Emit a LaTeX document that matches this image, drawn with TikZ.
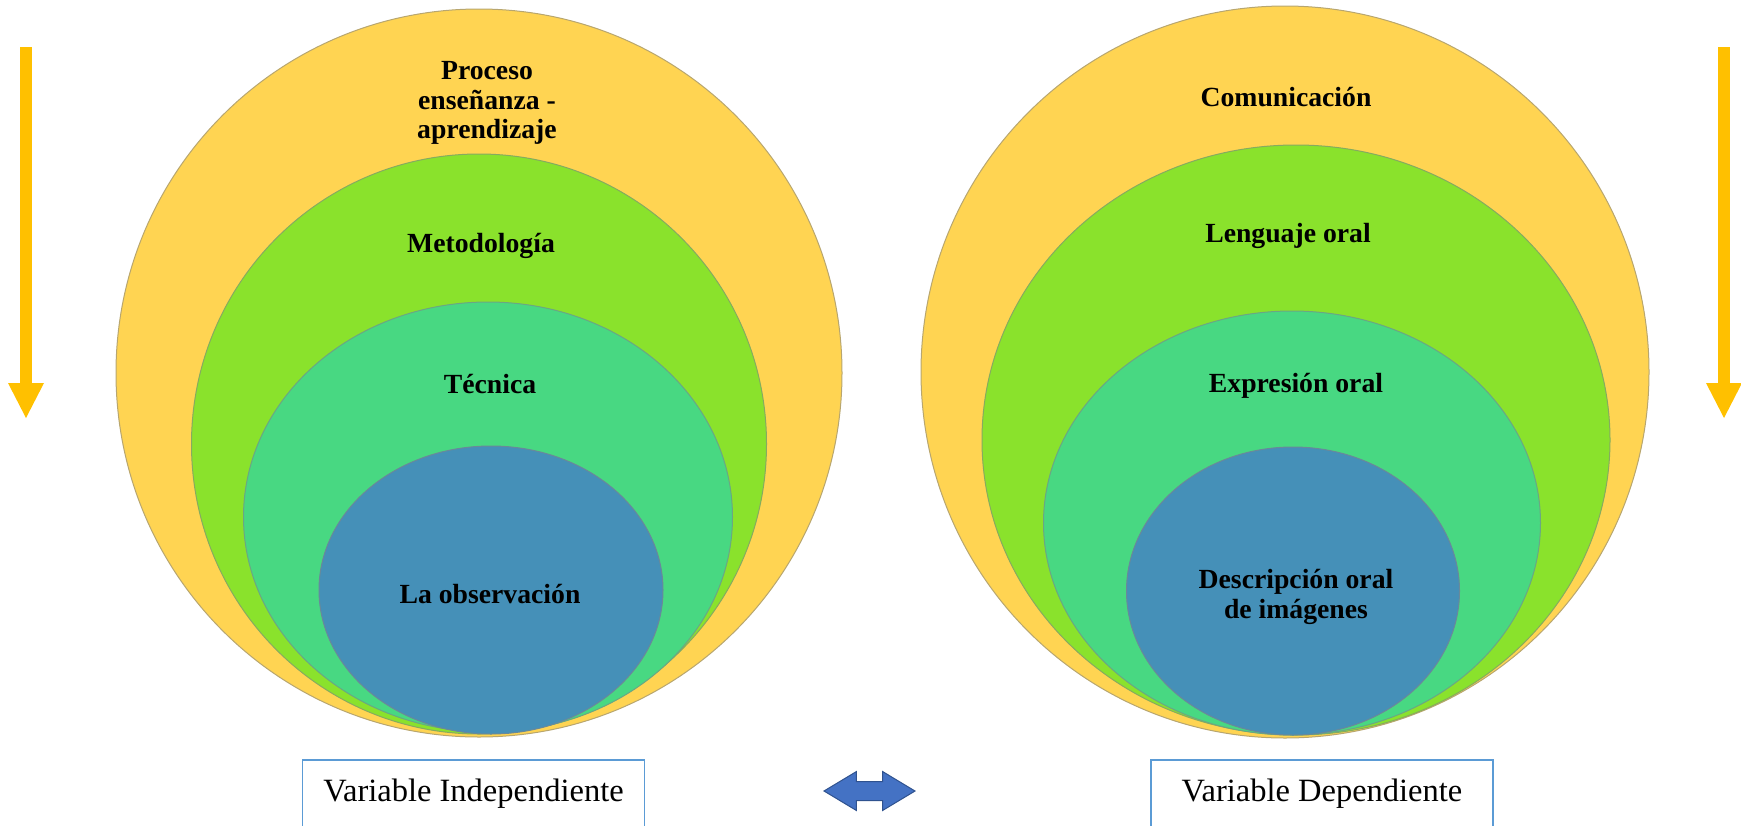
\documentclass[tikz,border=0pt]{standalone}
\usepackage{fontspec}
\setmainfont{Liberation Serif}
\usepackage{xcolor}
\usepackage{tikz}
\usetikzlibrary{arrows.meta,positioning,shapes.geometric,shapes.arrows}
\definecolor{setyellow}{HTML}{FFD452}
\definecolor{setgreen}{HTML}{8AE22C}
\definecolor{setteal}{HTML}{48D882}
\definecolor{setblue}{HTML}{4590B8}
\definecolor{arrowgold}{HTML}{FFC000}
\definecolor{boxblue}{HTML}{5B9BD5}
\definecolor{linkblue}{HTML}{4472C4}
\definecolor{linkedge}{HTML}{2F528F}

\begin{document}
\begin{tikzpicture}
			[x=1pt, y=-1pt,
				font=\bfseries\fontsize{27.7}{29.5}\selectfont,
				% STYLES
				% The ring style draws one level of the nested sets
				ring/.style={ellipse, inner sep=0pt, outer sep=0pt, fill=#1,
						draw=#1!60!black!70, line width=1pt},
				% The levelname style is used for the text of each level
				levelname/.style={align=center, inner sep=0pt},
				% The varbox style is used to draw the names of the variables
				varbox/.style={rectangle, draw=boxblue, line width=1.5pt, fill=white,
						minimum width=342pt, minimum height=68pt, inner sep=0pt,
						font=\mdseries\fontsize{32.5}{36}\selectfont},
				% The downarrow style marks the order of the levels
				downarrow/.style={draw=arrowgold, line width=12pt,
						-{Triangle[width=36pt, length=35pt, line width=0pt]}},
				% The link style joins both variables
				link/.style={double arrow, fill=linkblue, draw=linkedge, line width=1pt,
						minimum height=91pt, inner xsep=0pt, inner ysep=9pt,
						double arrow head extend=10pt, double arrow tip angle=62}]

			\useasboundingbox (0,0) rectangle (1741,825);

			% Independent variable
			\node [ring=setyellow, minimum width=726pt, minimum height=728pt] (iOuter) at (479,373) {};
			\node [ring=setgreen, minimum width=575pt, minimum height=580pt] (iMid) at (479,444) {};
			\node [ring=setteal, minimum width=489pt, minimum height=430pt] (iIn) at (488,517) {};
			\node [ring=setblue, minimum width=344pt, minimum height=288pt] (iCore) at (491,590) {};

			\node [levelname] (iOuterName) at (487,103) {Proceso\\ enseñanza -\\ aprendizaje};
			\node [levelname] (iMidName) at (481,246) {Metodología};
			\node [levelname] (iInName) at (490,384) {Técnica};
			\node [levelname] (iCoreName) at (490,594) {La observación};

			% Dependent variable
			\node [ring=setyellow, minimum width=728pt, minimum height=732pt] (dOuter) at (1285,372) {};
			\node [ring=setgreen, minimum width=628pt, minimum height=590pt] (dMid) at (1296,440) {};
			\node [ring=setteal, minimum width=497pt, minimum height=424pt] (dIn) at (1292,523) {};
			\node [ring=setblue, minimum width=333pt, minimum height=288pt] (dCore) at (1293,591) {};

			\node [levelname] (dOuterName) at (1286,97) {Comunicación};
			\node [levelname] (dMidName) at (1288,236) {Lenguaje oral};
			\node [levelname] (dInName) at (1296,386) {Expresión oral};
			\node [levelname] (dCoreName) at (1296,597) {Descripción oral\\ de imágenes};

			% Variables
			\node [varbox] (indep) at (473.5,794) {Variable Independiente};
			\node [varbox] (dep) at (1322,794) {Variable Dependiente};
			\node [link] (relation) at (869.5,791) {};

			% Order arrows
			\coordinate (lTop) at (26,47);
			\coordinate (lTip) at (26,418);
			\coordinate (rTop) at (1724,47);
			\coordinate (rTip) at (1724,418);
			\draw [downarrow] (lTop) -- (lTip);
			\draw [downarrow] (rTop) -- (rTip);

		\end{tikzpicture}
\end{document}
